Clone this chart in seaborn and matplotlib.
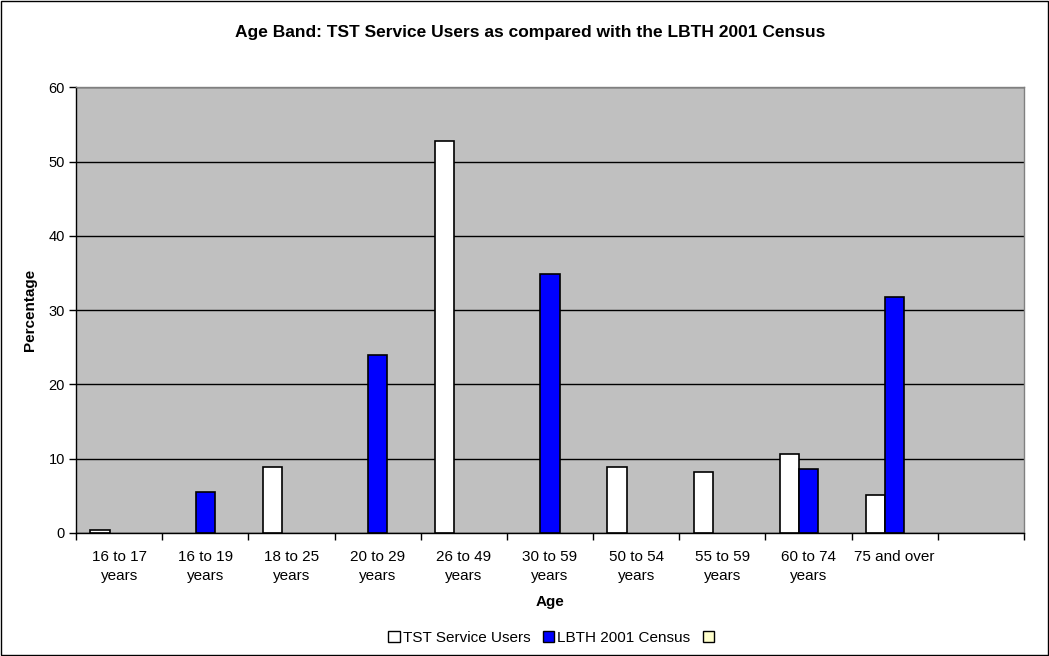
import numpy as np
import pandas as pd
import matplotlib
matplotlib.use("Agg")
import matplotlib.pyplot as plt
from matplotlib.patches import Patch, Rectangle
import seaborn as sns

sns.set_theme(style="white")
plt.rcParams["font.family"] = ["Liberation Sans", "DejaVu Sans"]
plt.rcParams.update({"text.color": "black", "axes.labelcolor": "black",
                     "xtick.color": "black", "ytick.color": "black"})

# data
ages = ["16 to 17\nyears", "16 to 19\nyears", "18 to 25\nyears", "20 to 29\nyears",
        "26 to 49\nyears", "30 to 59\nyears", "50 to 54\nyears", "55 to 59\nyears",
        "60 to 74\nyears", "75 and over"]
tst_users = [0.4, np.nan, 8.9, np.nan, 52.8, np.nan, 8.9, 8.2, 10.7, 5.1]
lbth_census = [np.nan, 5.5, np.nan, 24.0, np.nan, 34.9, np.nan, np.nan, 8.6, 31.8]
series = ["TST Service Users", "LBTH 2001 Census", ""]
colors = {"TST Service Users": "white", "LBTH 2001 Census": "#0000FF", "": "#FFFFCC"}

df = pd.DataFrame({
    "age": ages * 2,
    "series": [series[0]] * len(ages) + [series[1]] * len(ages),
    "value": tst_users + lbth_census,
}).dropna()

fig = plt.figure(figsize=(10.49, 6.56), dpi=100)
ax = fig.add_axes([0.0725, 0.1875, 0.9035, 0.6795])
ax.set_facecolor("#C0C0C0")

sns.barplot(data=df, x="age", y="value", hue="series", order=ages, hue_order=series,
            palette=colors, width=0.667, edgecolor="black", linewidth=1.2,
            saturation=1, errorbar=None, legend=False, ax=ax)

ax.set_xlim(-0.5, len(ages) + 0.5)
ax.set_ylim(0, 60)
ax.set_yticks(range(0, 61, 10))
ax.yaxis.grid(True, color="black", linewidth=1)
ax.set_axisbelow(True)

# category boundary ticks, like a spreadsheet chart
ax.set_xticks(range(len(ages)))
ax.set_xticklabels(ages, fontsize=11, linespacing=1.45)
ax.set_xticks(np.arange(-0.5, len(ages) + 1, 1), minor=True)
ax.tick_params(axis="x", which="major", length=0, pad=12)
ax.tick_params(axis="x", which="minor", length=5, direction="out", color="black", width=1, bottom=True)
ax.tick_params(axis="y", length=5, direction="out", color="black", width=1, left=True, labelsize=10.5, pad=3)

for side in ["top", "right"]:
    ax.spines[side].set_color("#808080")
for side in ["left", "bottom"]:
    ax.spines[side].set_color("black")
for s in ax.spines.values():
    s.set_linewidth(1)

ax.set_xlabel("Age", fontsize=11, fontweight="bold", labelpad=9)
ax.set_ylabel("Percentage", fontsize=11, fontweight="bold", labelpad=8)
fig.text(0.505, 0.951, "Age Band: TST Service Users as compared with the LBTH 2001 Census",
         fontsize=12.5, fontweight="bold", ha="center", va="center")

handles = [Patch(facecolor=colors[s], edgecolor="black", linewidth=1) for s in series]
fig.legend(handles, series, loc="center", bbox_to_anchor=(0.527, 0.028), ncol=3, frameon=False,
           fontsize=11, handlelength=0.75, handleheight=0.75, handletextpad=0.2, columnspacing=0.8)

fig.patches.append(Rectangle((0.001, 0.0015), 0.998, 0.997, transform=fig.transFigure,
                             fill=False, edgecolor="black", linewidth=1))

plt.savefig("out.png", dpi=100)
